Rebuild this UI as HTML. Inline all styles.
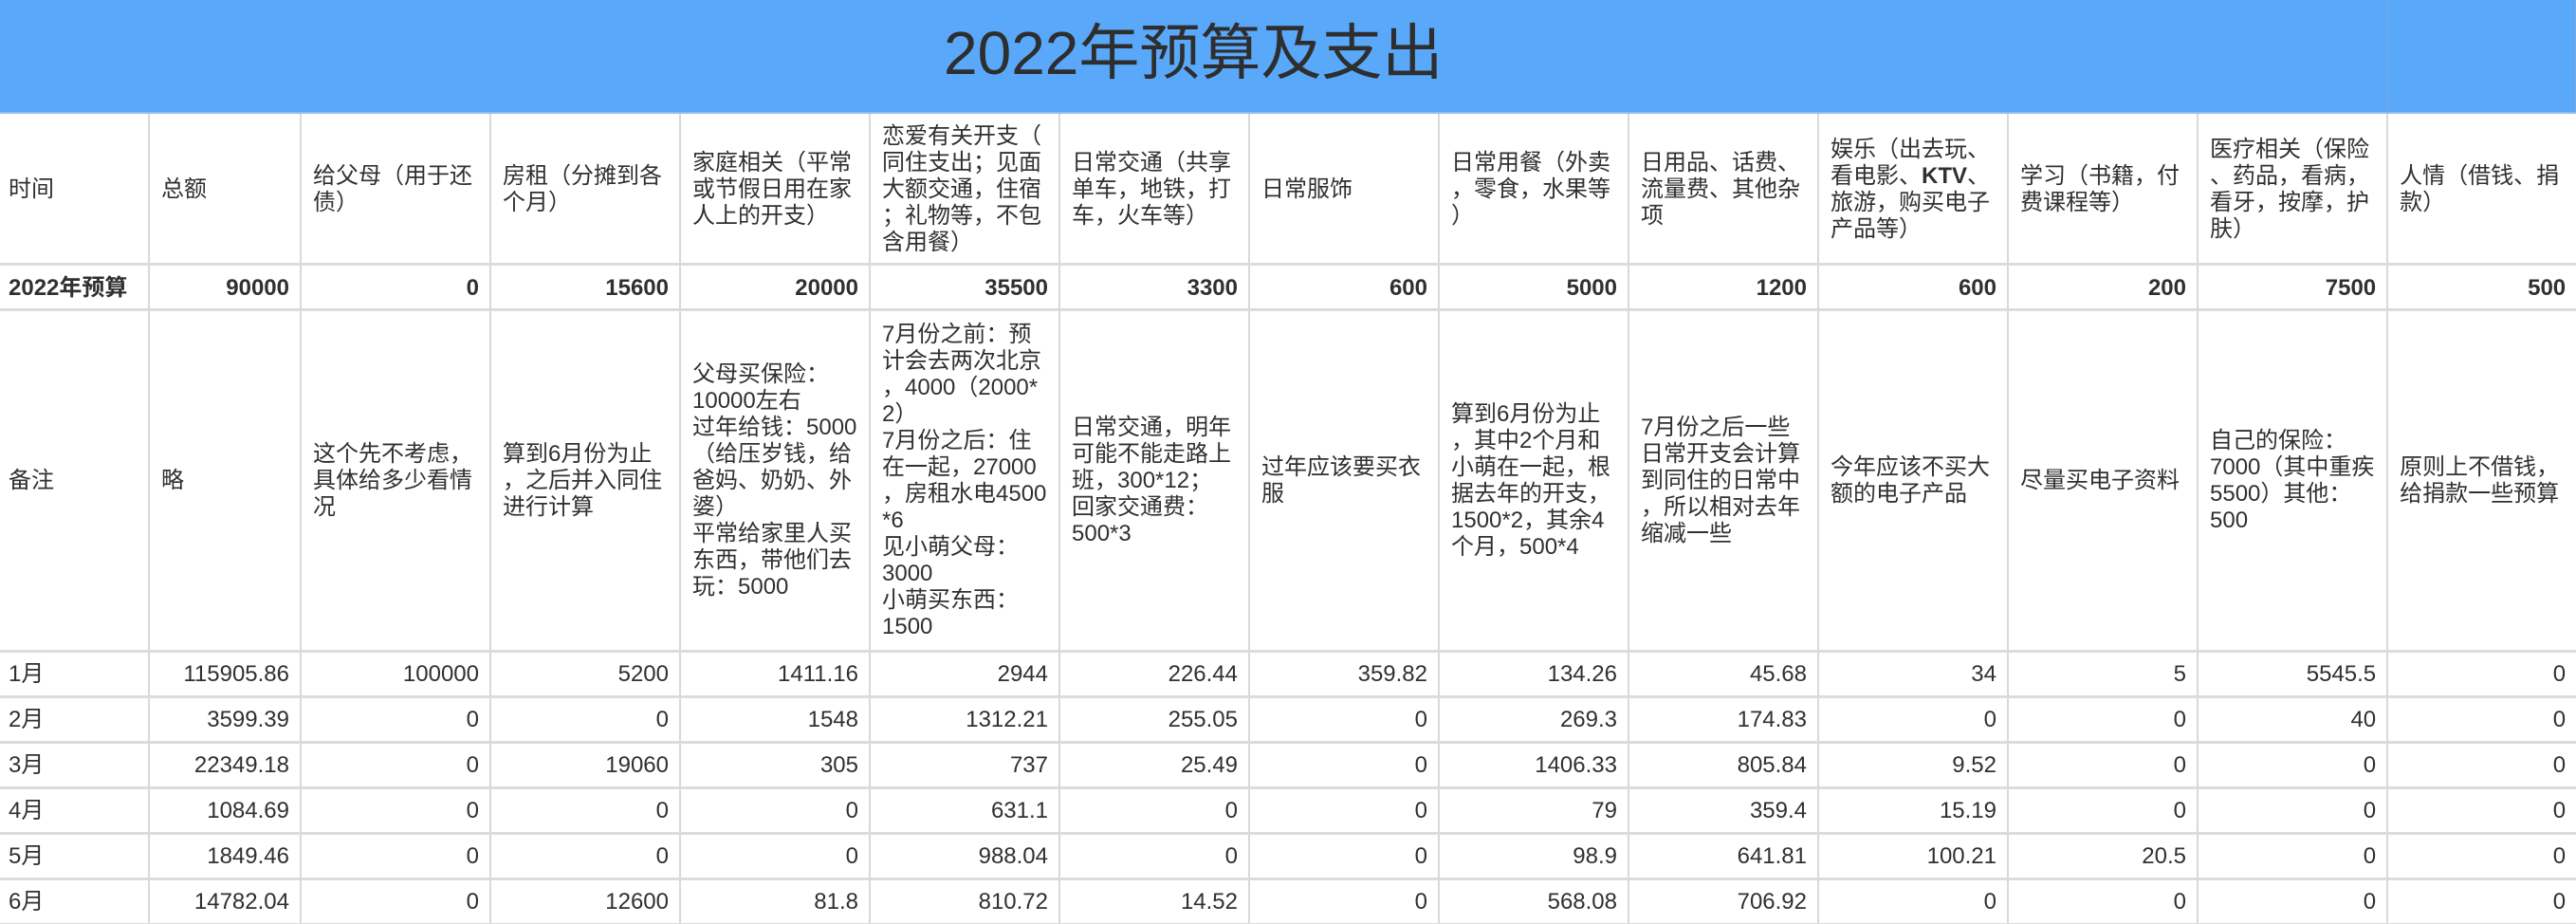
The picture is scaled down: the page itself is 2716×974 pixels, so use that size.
<!DOCTYPE html>
<html lang="zh-CN">
<head>
<meta charset="utf-8">
<title>2022年预算及支出</title>
<style>
html,body{margin:0;padding:0;width:2716px;height:974px;overflow:hidden;background:#fff;}
table{border-collapse:separate;border-spacing:0;table-layout:fixed;width:2716px;font-family:"Liberation Sans","Noto Sans CJK SC",sans-serif;font-size:24px;line-height:28px;color:#303030;}
td{box-sizing:border-box;padding:3px 11px 0 12px;border-right:2px solid #d9d9d9;border-bottom:3px solid #dcdcdc;white-space:nowrap;vertical-align:middle;overflow:visible;text-align:left;}
td:first-child{padding-left:9px;}
td:last-child{border-right:none;}
td.n{text-align:right;}
tr.budget td{font-weight:bold;}
tr:nth-child(n+4) td{padding-top:1px;}
tr.title td{background:#59a8f9;border-bottom:2px solid #97bee8;border-right:1px solid #7fa9d6;padding:0;}
tr.title td.t{font-size:64px;line-height:64px;padding:0 0 6px 995px;color:#2e2e2e;}
</style>
</head>
<body>
<table>
<colgroup>
<col style="width:158px"><col style="width:160px"><col style="width:200px"><col style="width:200px"><col style="width:200px"><col style="width:200px"><col style="width:200px"><col style="width:200px"><col style="width:200px"><col style="width:200px"><col style="width:200px"><col style="width:200px"><col style="width:200px"><col style="width:198px">
</colgroup>
<tr class="title" style="height:120px">
<td class="t" colspan="13">2022年预算及支出</td>
<td></td>
</tr>
<tr style="height:160px">
<td>时间</td>
<td>总额</td>
<td>给父母（用于还<br>债）</td>
<td>房租（分摊到各<br>个月）</td>
<td>家庭相关（平常<br>或节假日用在家<br>人上的开支）</td>
<td>恋爱有关开支（<br>同住支出；见面<br>大额交通，住宿<br>；礼物等，不包<br>含用餐）</td>
<td>日常交通（共享<br>单车，地铁，打<br>车，火车等）</td>
<td>日常服饰</td>
<td>日常用餐（外卖<br>，零食，水果等<br>）</td>
<td>日用品、话费、<br>流量费、其他杂<br>项</td>
<td>娱乐（出去玩、<br>看电影、<b>KTV</b>、<br>旅游，购买电子<br>产品等）</td>
<td>学习（书籍，付<br>费课程等）</td>
<td>医疗相关（保险<br>、药品，看病，<br>看牙，按摩，护<br>肤）</td>
<td>人情（借钱、捐<br>款）</td>
</tr>
<tr class="budget" style="height:48px">
<td>2022年预算</td>
<td class="n">90000</td>
<td class="n">0</td>
<td class="n">15600</td>
<td class="n">20000</td>
<td class="n">35500</td>
<td class="n">3300</td>
<td class="n">600</td>
<td class="n">5000</td>
<td class="n">1200</td>
<td class="n">600</td>
<td class="n">200</td>
<td class="n">7500</td>
<td class="n">500</td>
</tr>
<tr class="notes" style="height:360px">
<td>备注</td>
<td>略</td>
<td>这个先不考虑，<br>具体给多少看情<br>况</td>
<td>算到6月份为止<br>，之后并入同住<br>进行计算</td>
<td>父母买保险：<br>10000左右<br>过年给钱：5000<br>（给压岁钱，给<br>爸妈、奶奶、外<br>婆）<br>平常给家里人买<br>东西，带他们去<br>玩：5000</td>
<td>7月份之前：预<br>计会去两次北京<br>，4000（2000*<br>2）<br>7月份之后：住<br>在一起，27000<br>，房租水电4500<br>*6<br>见小萌父母：<br>3000<br>小萌买东西：<br>1500</td>
<td>日常交通，明年<br>可能不能走路上<br>班，300*12；<br>回家交通费：<br>500*3</td>
<td>过年应该要买衣<br>服</td>
<td>算到6月份为止<br>，其中2个月和<br>小萌在一起，根<br>据去年的开支，<br>1500*2，其余4<br>个月，500*4</td>
<td>7月份之后一些<br>日常开支会计算<br>到同住的日常中<br>，所以相对去年<br>缩减一些</td>
<td>今年应该不买大<br>额的电子产品</td>
<td>尽量买电子资料</td>
<td>自己的保险：<br>7000（其中重疾<br>5500）其他：<br>500</td>
<td>原则上不借钱，<br>给捐款一些预算</td>
</tr>
<tr style="height:48px">
<td>1月</td>
<td class="n">115905.86</td>
<td class="n">100000</td>
<td class="n">5200</td>
<td class="n">1411.16</td>
<td class="n">2944</td>
<td class="n">226.44</td>
<td class="n">359.82</td>
<td class="n">134.26</td>
<td class="n">45.68</td>
<td class="n">34</td>
<td class="n">5</td>
<td class="n">5545.5</td>
<td class="n">0</td>
</tr>
<tr style="height:48px">
<td>2月</td>
<td class="n">3599.39</td>
<td class="n">0</td>
<td class="n">0</td>
<td class="n">1548</td>
<td class="n">1312.21</td>
<td class="n">255.05</td>
<td class="n">0</td>
<td class="n">269.3</td>
<td class="n">174.83</td>
<td class="n">0</td>
<td class="n">0</td>
<td class="n">40</td>
<td class="n">0</td>
</tr>
<tr style="height:48px">
<td>3月</td>
<td class="n">22349.18</td>
<td class="n">0</td>
<td class="n">19060</td>
<td class="n">305</td>
<td class="n">737</td>
<td class="n">25.49</td>
<td class="n">0</td>
<td class="n">1406.33</td>
<td class="n">805.84</td>
<td class="n">9.52</td>
<td class="n">0</td>
<td class="n">0</td>
<td class="n">0</td>
</tr>
<tr style="height:48px">
<td>4月</td>
<td class="n">1084.69</td>
<td class="n">0</td>
<td class="n">0</td>
<td class="n">0</td>
<td class="n">631.1</td>
<td class="n">0</td>
<td class="n">0</td>
<td class="n">79</td>
<td class="n">359.4</td>
<td class="n">15.19</td>
<td class="n">0</td>
<td class="n">0</td>
<td class="n">0</td>
</tr>
<tr style="height:48px">
<td>5月</td>
<td class="n">1849.46</td>
<td class="n">0</td>
<td class="n">0</td>
<td class="n">0</td>
<td class="n">988.04</td>
<td class="n">0</td>
<td class="n">0</td>
<td class="n">98.9</td>
<td class="n">641.81</td>
<td class="n">100.21</td>
<td class="n">20.5</td>
<td class="n">0</td>
<td class="n">0</td>
</tr>
<tr style="height:48px">
<td>6月</td>
<td class="n">14782.04</td>
<td class="n">0</td>
<td class="n">12600</td>
<td class="n">81.8</td>
<td class="n">810.72</td>
<td class="n">14.52</td>
<td class="n">0</td>
<td class="n">568.08</td>
<td class="n">706.92</td>
<td class="n">0</td>
<td class="n">0</td>
<td class="n">0</td>
<td class="n">0</td>
</tr>
</table>
</body>
</html>
